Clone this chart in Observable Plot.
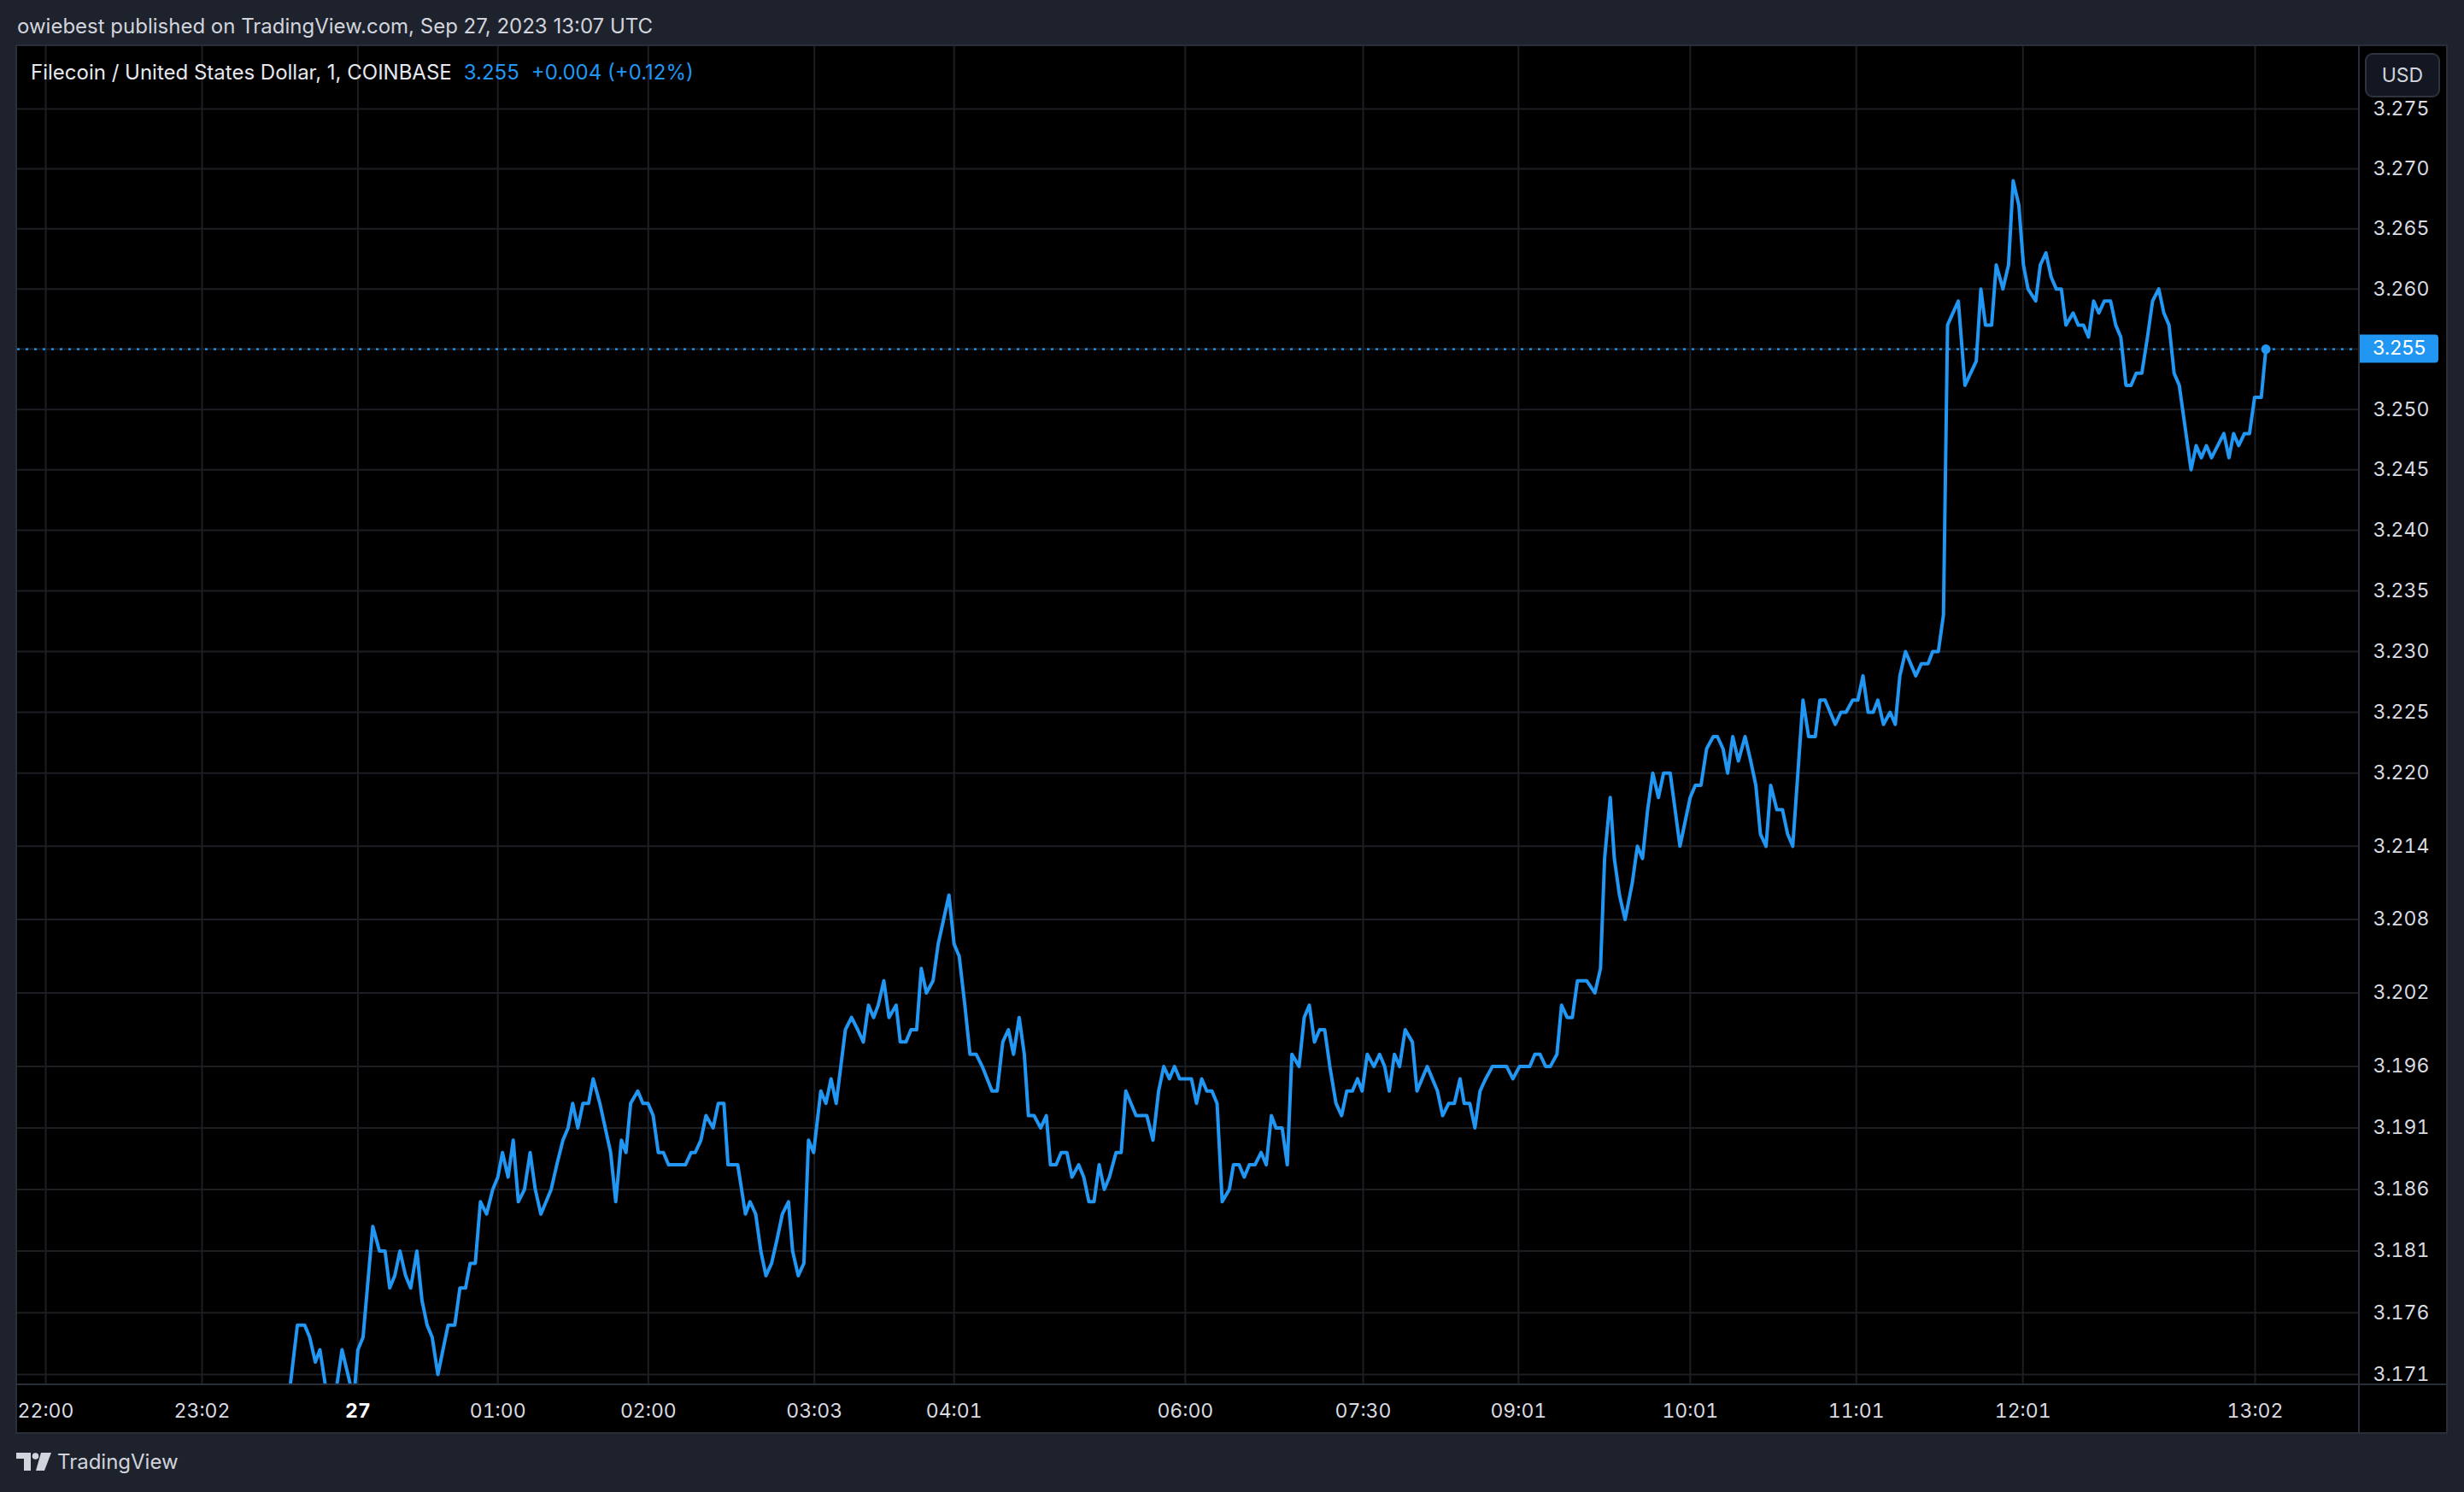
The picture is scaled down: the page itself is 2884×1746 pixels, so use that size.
<!DOCTYPE html>
<html><head><meta charset="utf-8">
<script src="https://cdn.jsdelivr.net/npm/d3@7"></script>
<script src="https://cdn.jsdelivr.net/npm/@observablehq/plot@0.6"></script>
<style>
html,body{margin:0;padding:0;background:#1e222d;width:2884px;height:1746px;overflow:hidden;font-family:Inter,"Noto Sans",sans-serif;}
#wrap{position:relative;width:2884px;height:1746px;}
.abs{position:absolute;white-space:nowrap;}
#pub{left:20px;top:19px;font-size:24px;line-height:24px;color:#d1d4dc;}
#legend{left:36px;top:73px;font-size:24px;line-height:24px;color:#e6e8ee;}
#legend .v{color:#2196f3;margin-left:14px;}
#usd{left:2768px;top:62px;width:84px;height:48px;border:2px solid #2f333e;border-radius:9px;background:#131722;color:#d1d4dc;font-size:23px;line-height:48px;text-align:center;}
.sep{background:#2a2e39;}
#brand{left:67px;top:1699px;font-size:24px;line-height:24px;color:#d1d4dc;}
#logo{left:19px;top:1700px;}
</style></head><body>
<div id="wrap">
  <div id="pub" class="abs">owiebest published on TradingView.com, Sep 27, 2023 13:07 UTC</div>
  <div id="chart" class="abs" style="left:20px;top:54px;"></div>
  <div class="abs sep" style="left:18px;top:52px;width:2847px;height:2px;"></div>
  <div class="abs sep" style="left:18px;top:1676px;width:2847px;height:2px;"></div>
  <div class="abs sep" style="left:18px;top:52px;width:2px;height:1626px;"></div>
  <div class="abs sep" style="left:2863px;top:52px;width:2px;height:1626px;"></div>
  <div class="abs sep" style="left:2760px;top:54px;width:2px;height:1622px;"></div>
  <div class="abs sep" style="left:20px;top:1619px;width:2843px;height:2px;"></div>
  <div id="legend" class="abs">Filecoin / United States Dollar, 1, COINBASE<span class="v">3.255</span><span class="v">+0.004 (+0.12%)</span></div>
  <div id="usd" class="abs">USD</div>
  <svg id="logo" class="abs" width="42" height="21" viewBox="0 0 42 21">
    <path d="M0 0H17V21H9V7H0Z" fill="#d1d4dc"/>
    <circle cx="22.5" cy="4" r="3.8" fill="#d1d4dc"/>
    <path d="M29 0H41L33 21H23Z" fill="#d1d4dc"/>
  </svg>
  <div id="brand" class="abs">TradingView</div>
</div>
<script>
// bar position (1 unit = one 1-minute bar slot) and close price
const bar = [
52.6,54.6,56.0,57.0,58.1,59.0,61.2,63.3,65.6,66.4,
67.4,69.3,70.6,71.7,72.6,73.6,74.6,75.7,76.7,77.9,
78.9,79.9,80.9,82.0,84.0,85.3,86.3,87.4,88.3,89.3,
90.3,91.5,92.7,93.7,94.6,95.7,96.7,97.7,98.9,100.0,
101.0,102.1,104.1,105.2,106.4,107.4,108.3,109.3,110.3,111.4,
112.3,113.6,115.7,116.7,117.8,118.7,119.6,121.0,122.0,123.0,
124.0,125.0,126.0,127.0,130.3,131.4,132.2,133.3,134.3,135.7,
136.7,137.8,138.6,140.5,142.0,142.9,144.0,145.0,146.0,147.1,
148.2,149.2,150.4,151.2,152.3,153.4,154.3,155.3,156.7,157.7,
158.7,159.7,161.5,162.7,163.9,165.0,166.0,167.0,167.9,169.0,
170.0,171.4,172.2,173.3,174.3,175.4,176.3,177.3,178.6,179.6,
181.7,182.7,183.7,184.8,185.8,187.0,188.2,190.1,191.1,192.2,
193.3,194.3,195.4,196.4,197.2,198.3,199.6,200.7,201.5,202.6,
203.6,204.7,205.7,207.0,208.0,209.0,210.0,211.0,212.0,213.0,
214.3,215.3,216.2,218.2,220.3,221.5,222.6,223.6,224.7,225.7,
226.7,229.0,230.0,231.0,232.0,233.0,234.0,235.0,236.4,237.2,
238.3,239.3,240.3,241.4,242.6,243.6,244.6,245.5,246.7,247.7,
248.6,250.0,251.0,252.0,253.0,254.0,255.0,256.0,257.2,258.3,
259.3,260.4,261.4,262.3,263.3,264.6,265.7,266.7,267.6,268.6,
269.6,270.7,272.1,273.0,275.0,277.0,278.0,279.2,280.3,281.4,
282.2,283.3,284.3,285.3,286.4,287.7,290.5,291.7,293.0,295.0,
296.0,297.0,298.1,299.0,300.3,301.2,302.3,303.3,304.3,306.1,
307.7,308.8,309.6,310.7,311.5,312.5,313.6,315.0,316.0,317.0,
318.0,319.0,320.1,321.1,322.4,324.3,325.3,326.3,327.3,328.4,
329.5,330.8,331.6,332.7,333.6,334.6,335.7,337.0,338.1,339.1,
340.0,341.1,342.0,343.2,344.3,345.3,346.3,348.3,349.4,350.7,
351.6,352.6,354.6,355.7,356.7,358.0,359.0,360.0,361.0,362.0,
362.9,364.0,365.3,366.3,367.2,368.3,370.3,371.4,372.7,373.6,
374.7,375.7,376.5,378.6,379.9,382.1,383.0,383.9,385.1,386.0,
387.3,388.4,389.3,390.4,391.3,392.2,393.7,394.6,395.7,396.7,
397.7,398.7,399.6,401.0,402.0,403.0,404.0,405.0,406.0,407.1,
408.3,409.3,410.3,411.3,412.3,413.3,414.4,415.5,416.5,417.7,
418.7,419.7,420.7,421.7,424.0,425.0,426.0,427.0,428.0,430.4,
431.4,432.3,433.3,434.4,435.4,436.4,437.7,438.6
];
const price = [
3.168,3.175,3.175,3.174,3.172,3.173,3.167,3.173,3.169,3.173,
3.174,3.183,3.181,3.181,3.178,3.179,3.181,3.179,3.178,3.181,
3.177,3.175,3.174,3.171,3.175,3.175,3.178,3.178,3.180,3.180,
3.185,3.184,3.186,3.187,3.189,3.187,3.190,3.185,3.186,3.189,
3.186,3.184,3.186,3.188,3.190,3.191,3.193,3.191,3.193,3.193,
3.195,3.193,3.189,3.185,3.190,3.189,3.193,3.194,3.193,3.193,
3.192,3.189,3.189,3.188,3.188,3.189,3.189,3.190,3.192,3.191,
3.193,3.193,3.188,3.188,3.184,3.185,3.184,3.181,3.179,3.180,
3.182,3.184,3.185,3.181,3.179,3.180,3.190,3.189,3.194,3.193,
3.195,3.193,3.199,3.200,3.199,3.198,3.201,3.200,3.201,3.203,
3.200,3.201,3.198,3.198,3.199,3.199,3.204,3.202,3.203,3.206,
3.210,3.206,3.205,3.201,3.197,3.197,3.196,3.194,3.194,3.198,
3.199,3.197,3.200,3.197,3.192,3.192,3.191,3.192,3.188,3.188,
3.189,3.189,3.187,3.188,3.187,3.185,3.185,3.188,3.186,3.187,
3.189,3.189,3.194,3.192,3.192,3.190,3.194,3.196,3.195,3.196,
3.195,3.195,3.193,3.195,3.194,3.194,3.193,3.185,3.186,3.188,
3.188,3.187,3.188,3.188,3.189,3.188,3.192,3.191,3.191,3.188,
3.197,3.196,3.200,3.201,3.198,3.199,3.199,3.196,3.193,3.192,
3.194,3.194,3.195,3.194,3.197,3.196,3.197,3.196,3.194,3.197,
3.196,3.199,3.198,3.194,3.196,3.194,3.192,3.193,3.193,3.195,
3.193,3.193,3.191,3.194,3.195,3.196,3.196,3.195,3.196,3.196,
3.197,3.197,3.196,3.196,3.197,3.201,3.200,3.200,3.203,3.203,
3.202,3.204,3.213,3.218,3.213,3.210,3.208,3.211,3.214,3.213,
3.217,3.220,3.218,3.220,3.220,3.214,3.216,3.218,3.219,3.219,
3.222,3.223,3.223,3.222,3.220,3.223,3.221,3.223,3.221,3.219,
3.215,3.214,3.219,3.217,3.217,3.215,3.214,3.226,3.223,3.223,
3.226,3.226,3.224,3.225,3.225,3.226,3.226,3.228,3.225,3.225,
3.226,3.224,3.225,3.224,3.228,3.230,3.228,3.229,3.229,3.230,
3.230,3.233,3.257,3.259,3.252,3.254,3.260,3.257,3.257,3.262,
3.260,3.262,3.269,3.267,3.262,3.260,3.259,3.262,3.263,3.261,
3.260,3.260,3.257,3.258,3.257,3.257,3.256,3.259,3.258,3.259,
3.259,3.257,3.256,3.252,3.252,3.253,3.253,3.256,3.259,3.260,
3.258,3.257,3.253,3.252,3.245,3.247,3.246,3.247,3.246,3.248,
3.246,3.248,3.247,3.248,3.248,3.251,3.251,3.255
];
const tickBars = [5.5, 36, 66.4, 93.7, 123.05, 155.45, 182.7, 227.8, 262.5, 292.8, 326.3, 358.7, 391.2, 436.5];
const tickLabels = ["22:00","23:02","27","01:00","02:00","03:03","04:01","06:00","07:30","09:01","10:01","11:01","12:01","13:02"];
const yTicks = [3.275,3.270,3.265,3.260,3.255,3.250,3.245,3.240,3.235,3.230,3.225,3.220,3.214,3.208,3.202,3.196,3.191,3.186,3.181,3.176,3.171];
const lastPrice = 3.255;
const yDomain = [3.17017, 3.28021];
const xDomain = [0, 456.83];

const data = bar.map((b, i) => ({bar: b, price: price[i]}));
const labelOf = new Map(tickBars.map((b, i) => [b, tickLabels[i]]));
const blue = "#2196f3";
const gridColor = "#1c1e23";
const W = 2843, H = 1622, MR = 102, MB = 56;

const plot = Plot.plot({
  width: W, height: H,
  marginTop: 0, marginLeft: 0, marginRight: MR, marginBottom: MB,
  style: {background: "#000", color: "#d1d4dc", fontFamily: "Inter, 'Noto Sans', sans-serif", fontSize: "24px", overflow: "visible"},
  x: {domain: xDomain, label: null},
  y: {type: "log", domain: yDomain, label: null},
  marks: [
    Plot.gridX(tickBars, {stroke: gridColor, strokeOpacity: 1, strokeWidth: 2}),
    Plot.gridY(yTicks, {stroke: gridColor, strokeOpacity: 1, strokeWidth: 2}),
    Plot.axisY(yTicks, {anchor: "right", tickSize: 0, tickPadding: 16, tickFormat: ".3f", fill: "#d9dbe0", fontSize: 23, label: null}),
    Plot.axisX(tickBars.filter(b => labelOf.get(b) !== "27"), {anchor: "bottom", tickSize: 0, tickPadding: 22, tickFormat: b => labelOf.get(b), fill: "#d9dbe0", fontSize: 23, label: null}),
    Plot.axisX(tickBars.filter(b => labelOf.get(b) === "27"), {anchor: "bottom", tickSize: 0, tickPadding: 22, tickFormat: b => labelOf.get(b), fill: "#ffffff", fontWeight: "bold", fontSize: 23, label: null}),
    Plot.ruleY([lastPrice], {stroke: blue, strokeWidth: 2.2, strokeDasharray: "3,7"}),
    Plot.line(data, {x: "bar", y: "price", stroke: blue, strokeWidth: 4, strokeLinejoin: "round", clip: true}),
    Plot.dot(data.slice(-1), {x: "bar", y: "price", r: 5.5, fill: blue})
  ]
});

// last-price badge on the price axis, placed through the y scale
const ys = plot.scale("y").apply(lastPrice);
const x0 = W - MR - 1;
const g = d3.select(plot).append("g");
g.append("path")
  .attr("d", `M${x0},${ys - 16.5}H${x0 + 90}a4,4 0 0 1 4,4V${ys + 12.5}a4,4 0 0 1 -4,4H${x0}Z`)
  .attr("fill", blue);
g.append("text")
  .attr("x", W - MR + 16).attr("y", ys).attr("dy", "0.32em")
  .attr("text-anchor", "start")
  .attr("fill", "#ffffff").attr("font-size", 23)
  .text(d3.format(".3f")(lastPrice));

document.getElementById("chart").appendChild(plot);
</script>
</body></html>
